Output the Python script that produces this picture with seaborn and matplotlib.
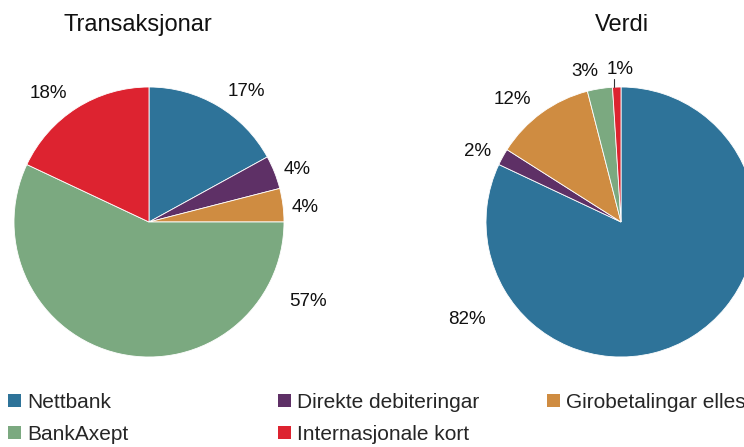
import matplotlib
matplotlib.use("Agg")
import matplotlib.pyplot as plt
import seaborn as sns
from matplotlib.patches import Patch

categories = ["Nettbank", "Direkte debiteringar", "Girobetalingar elles",
              "BankAxept", "Internasjonale kort"]
transaksjonar = [17, 4, 4, 57, 18]
verdi = [82, 2, 12, 3, 1]
titles = ["Transaksjonar", "Verdi"]
colors = ["#2E7399", "#5E3066", "#CF8C41", "#7BA980", "#DD2330"]

sns.set_theme(style="white")
plt.rcParams['font.family'] = ['Liberation Sans', 'DejaVu Sans']

W, H = 744, 447
fig = plt.figure(figsize=(W / 100, H / 100), dpi=100)
ax = fig.add_axes([0, 0, 1, 1])
ax.set_xlim(0, W)
ax.set_ylim(0, H)
ax.axis("off")

R = 135
centers = [(149, H - 222), (621, H - 222)]
# label positions (image pixel coordinates)
label_pos = [
    [(246, 92), (297, 170), (305, 207), (308, 302), (48, 93)],
    [(467, 320), (478, 151), (512, 100), (585, 72), (620, 70)],
]
title_pos = [(138, 25), (622, 25)]

for i, vals in enumerate([transaksjonar, verdi]):
    ax.pie(vals, colors=colors, center=centers[i], radius=R, startangle=90,
           counterclock=False,
           wedgeprops=dict(edgecolor="white", linewidth=0.6))
    for v, (x, y) in zip(vals, label_pos[i]):
        ax.text(x, H - y, f"{v}%", ha="center", va="center", fontsize=13.5,
                color="#111111")
    ax.text(title_pos[i][0], H - title_pos[i][1], titles[i], ha="center",
            va="center", fontsize=17, color="#111111")

# leader line for 1%
ax.plot([614, 614], [H - 79, H - 87], color="#333333", lw=0.8)

ax.set_xlim(0, W)
ax.set_ylim(0, H)
ax.set_aspect("equal")

handles = [Patch(facecolor=c, edgecolor="none") for c in colors]
cols = [[0, 3], [1, 4], [2]]
xs = [4, 274, 543]
for col, x in zip(cols, xs):
    fig.legend([handles[k] for k in col], [categories[k] for k in col],
               loc="upper left", bbox_to_anchor=(x / W, 1 - 389 / H),
               frameon=False, fontsize=15, handlelength=0.6, handleheight=0.6,
               handletextpad=0.3, labelspacing=0.6, borderaxespad=0,
               borderpad=0.2)

fig.savefig("out.png", dpi=100)
